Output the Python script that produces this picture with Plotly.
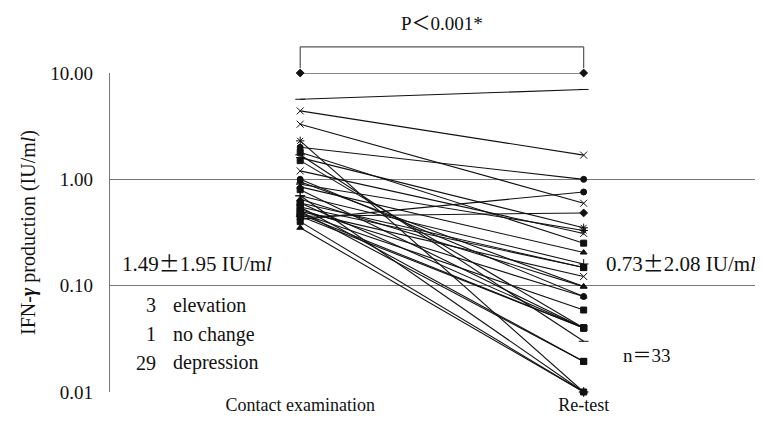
import plotly.graph_objects as go

categories = ["Contact examination", "Re-test"]
contact_values = [10.0, 5.66, 4.4, 2.0, 0.42, 3.3, 0.45, 1.6, 1.2, 0.9, 1.8,
                  0.85, 0.7, 0.6, 0.55, 0.5, 0.95, 0.65, 1.0, 0.52, 0.48,
                  1.5, 0.8, 0.6, 0.45, 1.7, 0.55, 0.5, 2.3, 0.7, 0.4, 0.35, 0.47]
retest_values = [10.0, 7.0, 1.69, 1.0, 0.76, 0.596, 0.483, 0.35, 0.31, 0.33, 0.251,
                 0.205, 0.16, 0.148, 0.148, 0.122, 0.098, 0.098, 0.079, 0.079, 0.059,
                 0.040, 0.040, 0.040, 0.040, 0.030, 0.0194, 0.0194, 0.01, 0.01, 0.01, 0.01, 0.040]
marker_symbols = ["diamond", "line-ew-open", "x-thin-open", "circle", "circle", "x-thin-open",
                  "diamond", "asterisk-open", "x-thin-open", "asterisk-open", "square",
                  "triangle-up", "cross-thin-open", "square", "square", "x-thin-open",
                  "triangle-up", "triangle-up", "circle", "triangle-up", "square",
                  "square", "square", "square", "square", "line-ew-open", "square", "square",
                  "asterisk-open", "cross-thin-open", "square", "triangle-up", "square"]
y_tick_vals = [0.01, 0.1, 1, 10]
y_tick_text = ["0.01", "0.10", "1.00", "10.00"]

fig = go.Figure()
for i in range(len(contact_values)):
    sym = marker_symbols[i]
    is_open = sym.endswith("open")
    fig.add_trace(go.Scatter(
        x=[0, 1], y=[contact_values[i], retest_values[i]],
        mode="lines+markers", cliponaxis=False,
        line=dict(color="#111111", width=1.1),
        marker=dict(symbol=sym, size=7 if is_open else 6, color="#111111",
                    line=dict(color="#111111", width=1)),
        showlegend=False, hoverinfo="skip"))

serif = "Liberation Serif"
cjk = "<span style='font-family:Noto Sans CJK JP'>{}</span>"
fig.update_layout(
    width=755, height=424,
    margin=dict(l=102, r=7, t=65, b=40),
    paper_bgcolor="white", plot_bgcolor="white",
    font=dict(family=serif, size=18, color="#111111"),
    xaxis=dict(range=[-0.671, 1.608], tickvals=[0, 1], ticktext=categories,
               showgrid=False, zeroline=False, showline=False, ticks="",
               tickfont=dict(size=18)),
    yaxis=dict(type="log", range=[-2, 1], tickvals=y_tick_vals, ticktext=y_tick_text,
               showgrid=True, gridcolor="#777777", gridwidth=1.2, zeroline=False,
               showline=True, linecolor="#777777", linewidth=1.2, ticks="",
               tickfont=dict(size=19), ticklabelstandoff=12,
               title=dict(text="IFN-<b><i>γ</i></b> production (IU/m<i>l</i>)",
                          font=dict(size=20), standoff=9)),
)

# significance bracket
fig.add_shape(type="line", xref="x", yref="paper", x0=0, x1=1, y0=1.082, y1=1.082,
              line=dict(color="#555555", width=1.2))
fig.add_shape(type="line", xref="x", yref="paper", x0=0, x1=0, y0=1.082, y1=1.015,
              line=dict(color="#555555", width=1.2))
fig.add_shape(type="line", xref="x", yref="paper", x0=1, x1=1, y0=1.082, y1=1.015,
              line=dict(color="#555555", width=1.2))
fig.add_annotation(x=0.5, xref="x", y=1.16, yref="paper", yanchor="middle",
                   text="P" + cjk.format("＜") + "0.001*", showarrow=False, font=dict(size=19))

pm = cjk.format("±")
fig.add_annotation(x=-0.364, xref="x", y=-0.94, yref="y", yanchor="bottom",
                   text="1.49" + pm + "1.95 IU/m<i>l</i>", showarrow=False, font=dict(size=21))
fig.add_annotation(x=1.003, xref="paper", y=-0.94, yref="y", xanchor="right", yanchor="bottom",
                   text="0.73" + pm + "2.08 IU/m<i>l</i>", showarrow=False, font=dict(size=21))

counts = ["3", "1", "29"]
labels = ["elevation", "no change", "depression"]
count_y = [-1.18, -1.455, -1.725]
for c, lab, yy in zip(counts, labels, count_y):
    fig.add_annotation(x=-0.5, xref="x", y=yy, yref="y", xanchor="right",
                       text=c, showarrow=False, font=dict(size=20))
    fig.add_annotation(x=-0.455, xref="x", y=yy, yref="y", xanchor="left",
                       text=lab, showarrow=False, font=dict(size=20))
fig.add_annotation(x=1.13, xref="x", y=-1.64, yref="y", xanchor="left",
                   text="n" + cjk.format("＝") + "33", showarrow=False, font=dict(size=19))

fig.write_html("out.html")
